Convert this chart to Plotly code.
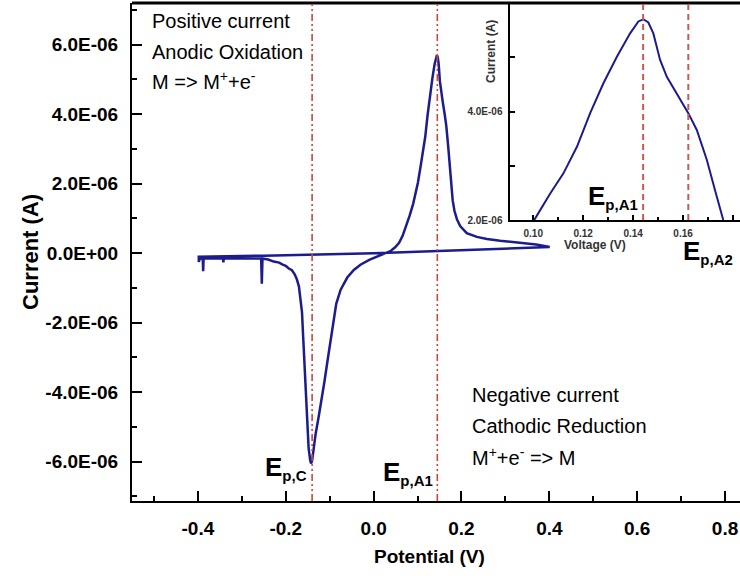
import plotly.graph_objects as go

# ---------------- data ----------------
potential_v = [
    0.401, 0.35, 0.30, 0.25, 0.20, 0.15, 0.10, 0.05, 0.00, -0.05, -0.10, -0.15, -0.20, -0.25, -0.30, -0.35, -0.398,
    -0.398, -0.395, -0.389, -0.388, -0.387, -0.343, -0.342, -0.341, -0.256, -0.2545, -0.253,
    -0.24, -0.2275, -0.215, -0.207, -0.200, -0.193, -0.186, -0.180, -0.175, -0.170, -0.166, -0.163,
    -0.160, -0.157, -0.154, -0.151, -0.148, -0.1445, -0.1425, -0.140, -0.137, -0.132, -0.125, -0.118,
    -0.112, -0.105, -0.098, -0.091, -0.085, -0.075, -0.060, -0.045, -0.030, -0.010, 0.010, 0.025,
    0.038, 0.049, 0.058, 0.066, 0.074, 0.082, 0.090, 0.096, 0.1008, 0.1068, 0.1121, 0.1175, 0.1228,
    0.1281, 0.1335, 0.1388, 0.1421, 0.1441, 0.1461, 0.1481, 0.1508, 0.1535, 0.1575, 0.1621, 0.1655,
    0.1695, 0.1728, 0.1761, 0.1800, 0.1840, 0.1895, 0.197, 0.212, 0.235, 0.258, 0.288, 0.330, 0.370, 0.401,
]
current_uA = [
    0.18, 0.16, 0.13, 0.11, 0.08, 0.06, 0.04, 0.02, 0.00, -0.02, -0.03, -0.05, -0.06, -0.07, -0.08, -0.09, -0.10,
    -0.25, -0.15, -0.15, -0.52, -0.15, -0.15, -0.26, -0.15, -0.15, -0.88, -0.15,
    -0.18, -0.24, -0.27, -0.33, -0.36, -0.44, -0.49, -0.60, -0.74, -0.96, -1.3, -1.7,
    -2.5, -3.3, -4.2, -5.0, -5.6, -5.95, -6.05, -5.97, -5.65, -5.2, -4.7, -4.2,
    -3.7, -3.1, -2.5, -1.9, -1.45, -1.05, -0.70, -0.48, -0.33, -0.19, -0.09, -0.02,
    0.06, 0.17, 0.30, 0.50, 0.78, 1.08, 1.42, 1.72, 2.03, 2.49, 2.86, 3.35, 3.97,
    4.52, 5.01, 5.44, 5.66, 5.70, 5.64, 5.44, 4.95, 4.64, 4.34, 3.97, 3.66,
    3.11, 2.55, 2.00, 1.52, 1.22, 0.98, 0.78, 0.58, 0.47, 0.41, 0.36, 0.30, 0.25, 0.18,
]
current_a = [v * 1e-6 for v in current_uA]

E_pC = -0.140
E_pA1_main = 0.145
E_pA1 = 0.1440
E_pA2 = 0.1621

main_x_ticks = [-0.4, -0.2, 0.0, 0.2, 0.4, 0.6, 0.8]
main_x_labels = ["-0.4", "-0.2", "0.0", "0.2", "0.4", "0.6", "0.8"]
main_y_ticks = [-6e-6, -4e-6, -2e-6, 0.0, 2e-6, 4e-6, 6e-6]
main_y_labels = ["-6.0E-06", "-4.0E-06", "-2.0E-06", "0.0E+00", "2.0E-06", "4.0E-06", "6.0E-06"]
inset_x_ticks = [0.10, 0.12, 0.14, 0.16, 0.18]
inset_x_labels = ["0.10", "0.12", "0.14", "0.16", "0.18"]
inset_y_ticks = [2e-6, 3e-6, 4e-6, 5e-6]
inset_y_labels = ["2.0E-06", "", "4.0E-06", ""]

# ---------------- styling ----------------
FONT = "Liberation Sans, Arial, sans-serif"
CURVE = "#1c1c8c"
RED = "#c9473a"
L, T, W, H = 132, 3, 608, 498


def fx(px):
    return (px - L) / W


def fy(py):
    return (T + H - py) / H


fig = go.Figure()
fig.add_trace(go.Scatter(x=potential_v, y=current_a, mode="lines",
                         line=dict(color=CURVE, width=2.5), showlegend=False,
                         hoverinfo="skip", xaxis="x", yaxis="y"))
fig.add_trace(go.Scatter(x=potential_v, y=current_a, mode="lines",
                         line=dict(color=CURVE, width=2), showlegend=False,
                         hoverinfo="skip", xaxis="x2", yaxis="y2"))

axis_common = dict(showline=True, linecolor="black", linewidth=2, ticks="inside",
                   tickcolor="black", showgrid=False, zeroline=False, mirror=False)

fig.update_layout(
    width=740, height=578,
    margin=dict(l=L, r=0, t=T, b=578 - T - H, pad=0),
    paper_bgcolor="white", plot_bgcolor="white",
    font=dict(family=FONT, color="black"),
    xaxis=dict(domain=[0, 1], range=[-0.55, 0.834], tickmode="array",
               tickvals=main_x_ticks, ticktext=main_x_labels, ticklen=10, tickwidth=2,
               tickfont=dict(size=19, weight="bold", family=FONT), ticklabelstandoff=9,
               minor=dict(ticks="inside", ticklen=5, tickwidth=2, dtick=0.1, tick0=0,
                          tickcolor="black"),
               anchor="y", **axis_common),
    yaxis=dict(domain=[0, 1], range=[-7.13e-6, 7.2e-6], tickmode="array",
               tickvals=main_y_ticks, ticktext=main_y_labels, ticklen=10, tickwidth=2,
               tickfont=dict(size=19, weight="bold", family=FONT), ticklabelstandoff=8,
               minor=dict(ticks="inside", ticklen=5, tickwidth=2, dtick=1e-6, tick0=0,
                          tickcolor="black"),
               anchor="x", **axis_common),
    xaxis2=dict(domain=[fx(509.5), 1], range=[0.0905, 0.1828], tickmode="array",
                tickvals=inset_x_ticks, ticktext=inset_x_labels, ticklen=5, tickwidth=1.5,
                tickfont=dict(size=10, weight="bold", family=FONT, color="#333"),
                ticklabelstandoff=3,
                minor=dict(ticks="inside", ticklen=3, tickwidth=1.5, dtick=0.01, tick0=0,
                           tickcolor="black"),
                anchor="y2", **axis_common),
    yaxis2=dict(domain=[fy(220), 1], range=[2e-6, 6e-6], tickmode="array",
                tickvals=inset_y_ticks, ticktext=inset_y_labels, ticklen=5, tickwidth=1.5,
                tickfont=dict(size=10, weight="bold", family=FONT, color="#333"),
                ticklabelstandoff=3,
                anchor="x2", **axis_common),
)

shapes = [
    dict(type="line", xref="paper", yref="paper", x0=0, x1=1, y0=1, y1=1,
         line=dict(color="black", width=3)),
    dict(type="line", xref="x", yref="y domain", x0=E_pC, x1=E_pC, y0=0, y1=1,
         line=dict(color=RED, width=1.6, dash="7px,3px,2px,3px,2px,3px")),
    dict(type="line", xref="x", yref="y domain", x0=E_pA1_main, x1=E_pA1_main, y0=0, y1=1,
         line=dict(color=RED, width=1.6, dash="7px,3px,2px,3px,2px,3px")),
    dict(type="line", xref="x2", yref="y2 domain", x0=E_pA1, x1=E_pA1, y0=0, y1=1,
         line=dict(color="#cc5a4c", width=2, dash="6px,4px")),
    dict(type="line", xref="x2", yref="y2 domain", x0=E_pA2, x1=E_pA2, y0=0, y1=1,
         line=dict(color="#cc5a4c", width=2, dash="6px,4px")),
]
fig.update_layout(shapes=shapes)

ann = []


def txt(text, px, py, size, bold=False, xanchor="left", yanchor="middle", angle=0, color="black"):
    ann.append(dict(text=text, x=fx(px), y=fy(py), xref="paper", yref="paper",
                    xanchor=xanchor, yanchor=yanchor, showarrow=False, textangle=angle,
                    font=dict(family=FONT, size=size, color=color,
                              weight="bold" if bold else "normal")))


# main axis titles
txt("Potential (V)", 429, 556, 19, bold=True, xanchor="center")
txt("Current (A)", 30, 252, 22, bold=True, xanchor="center", angle=-90)
# inset axis titles
txt("Voltage (V)", 595, 245, 12, bold=True, xanchor="center", color="#333")
txt("Current (A)", 491, 52, 12, bold=True, xanchor="center", angle=-90, color="#333")

# descriptive texts
txt("Positive current", 150, 21, 20)
txt("Anodic Oxidation", 150, 52, 20)
txt("M => M<sup>+</sup>+e<sup>-</sup>", 150, 81, 20)
txt("Negative current", 470, 395, 20)
txt("Cathodic Reduction", 470, 426, 20)
txt("M<sup>+</sup>+e<sup>-</sup> => M", 470, 456, 20)


# peak labels
def elabel(sub):
    return "<b>E<sub><span style='font-size:15px'>" + sub + "</span></sub></b>"


txt(elabel("p,C"), 263, 468, 26)
txt(elabel("p,A1"), 381, 473, 26)
txt(elabel("p,A1"), 586, 197, 26)
txt(elabel("p,A2"), 681, 252, 26)

fig.update_layout(annotations=ann)
fig.write_html("out.html", config={"displayModeBar": False},
               post_script="document.body.style.margin='0px';")
